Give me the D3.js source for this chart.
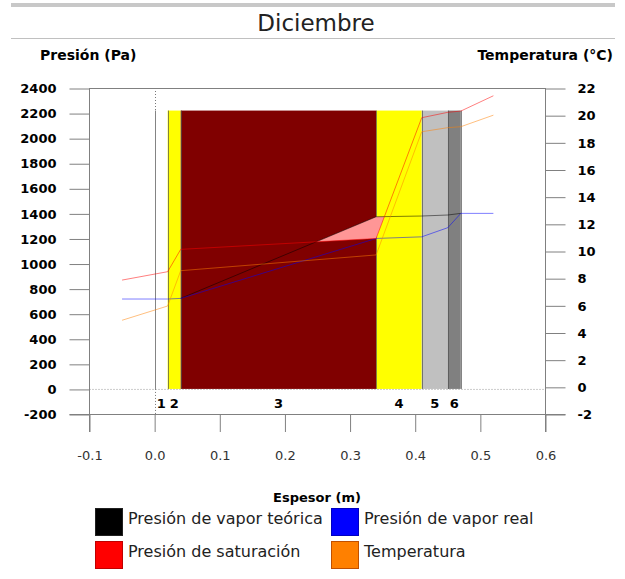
<!DOCTYPE html>
<html>
<head>
    <meta charset="utf-8">
    <title>Diciembre</title>
    <script src="https://d3js.org/d3.v7.min.js"></script>
    <style>
    body { margin: 0; background: #fff; }
    svg text { font-family: "DejaVu Sans", Verdana, sans-serif; }
    .axis path.domain { display: none; }
    .axis line { stroke: #808080; }
    .axis text { font-size: 13px; font-weight: bold; fill: #000; }
    .xaxis text { font-weight: normal; fill: #333; }
    </style>
</head>
<body>
<script>
// layers of the wall (thickness in m)
var layerNames = ["1", "2", "3", "4", "5", "6"];
var layerStart = [0, 0.02, 0.04, 0.34, 0.41, 0.45];
var layerEnd = [0.02, 0.04, 0.34, 0.41, 0.45, 0.47];
var layerColors = ["#ffffff", "#ffff00", "#800000", "#ffff00", "#c0c0c0", "#808080"];
var wallTop = 2220;

// points along the section
var espesor = [-0.05, 0.02, 0.04, 0.34, 0.41, 0.45, 0.47, 0.52];
var presSat = [868, 935, 1113, 1200, 2163, 2206, 2216, 2338];
var presReal = [717, 717, 722, 1200, 1213, 1286, 1400, 1400];
var temperatura = [4.9, 5.95, 8.55, 9.71, 18.78, 19.08, 19.15, 20.0];
var espesorTeo = [0.04, 0.34, 0.41, 0.45, 0.47];
var presTeo = [722, 1373, 1379, 1387, 1400];

var presTicks = d3.range(-200, 2401, 200);
var tempTicks = d3.range(-2, 23, 2);
var xTicks = [-0.1, 0.0, 0.1, 0.2, 0.3, 0.4, 0.5, 0.6];

var legendNames = ["Presión de vapor teórica", "Presión de vapor real", "Presión de saturación", "Temperatura"];
var legendColors = ["#000000", "#0000ff", "#ff0000", "#ff8000"];
var legendBorders = ["#202020", "#0000c0", "#c00000", "#c05000"];

var width = 625, height = 579;
var svg = d3.select("body").append("svg")
    .attr("width", width)
    .attr("height", height);

var x = d3.scaleLinear().domain([-0.1, 0.6]).range([89.5, 545.5]);
var yP = d3.scaleLinear().domain([-200, 2400]).range([414, 88]);
var yT = d3.scaleLinear().domain([-2, 22]).range([414, 88]);

// plain hyphen for negative numbers
function fmt(f) {
    return function(d) { return d3.format(f)(d).replace("\u2212", "-"); };
}

// title
svg.append("rect").attr("x", 11).attr("y", 3).attr("width", 604).attr("height", 4).attr("fill", "#c8c8c8");
svg.append("text").attr("x", 316).attr("y", 31).attr("text-anchor", "middle")
    .style("font-size", "23px").style("fill", "#222").text("Diciembre");
svg.append("line").attr("x1", 11).attr("x2", 615).attr("y1", 38.5).attr("y2", 38.5).attr("stroke", "#c0c0c0");

svg.append("text").attr("x", 40).attr("y", 60)
    .style("font-size", "14px").style("font-weight", "bold").text("Presión (Pa)");
svg.append("text").attr("x", 613).attr("y", 60).attr("text-anchor", "end")
    .style("font-size", "14px").style("font-weight", "bold").text("Temperatura (°C)");

// layers
svg.selectAll("rect.layer")
    .data(layerNames)
    .enter()
    .append("rect")
    .attr("class", "layer")
    .attr("x", function(d, i) { return x(layerStart[i]); })
    .attr("width", function(d, i) { return x(layerEnd[i]) - x(layerStart[i]); })
    .attr("y", yP(wallTop))
    .attr("height", yP(0) - yP(wallTop))
    .attr("fill", function(d, i) { return layerColors[i]; });

// borders between layers
var borders = layerStart.concat([layerEnd[layerEnd.length - 1]]);
svg.selectAll("line.border")
    .data(borders)
    .enter()
    .append("line")
    .attr("x1", function(d) { return Math.round(x(d)) + 0.5; })
    .attr("x2", function(d) { return Math.round(x(d)) + 0.5; })
    .attr("y1", yP(wallTop))
    .attr("y2", yP(0))
    .attr("stroke", "#505050")
    .attr("stroke-opacity", 0.7);

// dotted reference lines
svg.append("line").attr("x1", x(-0.1)).attr("x2", x(0.6)).attr("y1", yP(0) + 0.5).attr("y2", yP(0) + 0.5)
    .attr("stroke", "#999").attr("stroke-dasharray", "1,2");
svg.append("line").attr("x1", Math.round(x(0)) + 0.5).attr("x2", Math.round(x(0)) + 0.5).attr("y1", 88).attr("y2", yP(wallTop))
    .attr("stroke", "#777").attr("stroke-dasharray", "1,2");
svg.append("line").attr("x1", Math.round(x(0)) + 0.5).attr("x2", Math.round(x(0)) + 0.5).attr("y1", yP(0)).attr("y2", 414)
    .attr("stroke", "#777").attr("stroke-dasharray", "1,2");

// condensation zone: where theoretical pressure is above saturation
function interp(xs, ys, v) {
    for (var i = 0; i < xs.length - 1; i++) {
        if (v >= xs[i] && v <= xs[i + 1]) {
            return ys[i] + (ys[i + 1] - ys[i]) * (v - xs[i]) / (xs[i + 1] - xs[i]);
        }
    }
    return ys[ys.length - 1];
}
var pts = [];
var xsAll = espesorTeo.concat(espesor.filter(function(v) { return v > espesorTeo[0] && v < espesorTeo[espesorTeo.length - 1]; }));
xsAll.sort(d3.ascending);
xsAll = xsAll.filter(function(v, i) { return i == 0 || v != xsAll[i - 1]; });
for (var i = 0; i < xsAll.length; i++) {
    var a = xsAll[i];
    pts.push(a);
    if (i < xsAll.length - 1) {
        var b = xsAll[i + 1];
        var da = interp(espesorTeo, presTeo, a) - interp(espesor, presSat, a);
        var db = interp(espesorTeo, presTeo, b) - interp(espesor, presSat, b);
        if (da * db < 0) pts.push(a + (b - a) * da / (da - db));
    }
}
var zone = d3.area()
    .x(function(d) { return x(d); })
    .y0(function(d) { return yP(interp(espesor, presSat, d)); })
    .y1(function(d) { return yP(Math.max(interp(espesorTeo, presTeo, d), interp(espesor, presSat, d))); });
svg.append("path").datum(pts).attr("d", zone).attr("fill", "#ff9696");

// lines
var lineP = d3.line().x(function(d) { return x(d[0]); }).y(function(d) { return yP(d[1]); });
var lineT = d3.line().x(function(d) { return x(d[0]); }).y(function(d) { return yT(d[1]); });

svg.append("path").datum(d3.zip(espesorTeo, presTeo)).attr("d", lineP)
    .attr("fill", "none").attr("stroke", "#000").attr("stroke-opacity", 0.5);
svg.append("path").datum(d3.zip(espesor, presReal)).attr("d", lineP)
    .attr("fill", "none").attr("stroke", "#0000ff").attr("stroke-opacity", 0.5);
svg.append("path").datum(d3.zip(espesor, presSat)).attr("d", lineP)
    .attr("fill", "none").attr("stroke", "#ff0000").attr("stroke-opacity", 0.5);
svg.append("path").datum(d3.zip(espesor, temperatura)).attr("d", lineT)
    .attr("fill", "none").attr("stroke", "#ff8000").attr("stroke-opacity", 0.5);

// frame
svg.append("line").attr("x1", x(-0.1)).attr("x2", x(0.6)).attr("y1", 88.5).attr("y2", 88.5).attr("stroke", "#808080");
svg.append("line").attr("x1", x(-0.1) - 20).attr("x2", x(0.6) + 20).attr("y1", 414.5).attr("y2", 414.5).attr("stroke", "#808080");
svg.append("line").attr("x1", x(-0.1)).attr("x2", x(-0.1)).attr("y1", 88).attr("y2", 432).attr("stroke", "#808080");
svg.append("line").attr("x1", x(0.6)).attr("x2", x(0.6)).attr("y1", 88).attr("y2", 432).attr("stroke", "#808080");

// axes
svg.append("g").attr("class", "axis")
    .attr("transform", "translate(" + x(-0.1) + ",0.5)")
    .call(d3.axisLeft(yP).tickValues(presTicks).tickSize(20).tickPadding(13).tickFormat(fmt("d")));
svg.append("g").attr("class", "axis")
    .attr("transform", "translate(" + x(0.6) + ",0.5)")
    .call(d3.axisRight(yT).tickValues(tempTicks).tickSize(20).tickPadding(12).tickFormat(fmt("d")));
var xa = svg.append("g").attr("class", "axis xaxis")
    .attr("transform", "translate(0,414)")
    .call(d3.axisBottom(x).tickValues(xTicks).tickSize(18).tickFormat(fmt(".1f")));
xa.selectAll("text").attr("y", 46).attr("dy", 0);

// layer numbers
svg.selectAll("text.layername")
    .data(layerNames)
    .enter()
    .append("text")
    .attr("x", function(d, i) { return x((layerStart[i] + layerEnd[i]) / 2); })
    .attr("y", 407.5)
    .attr("text-anchor", "middle")
    .style("font-size", "13px")
    .style("font-weight", "bold")
    .text(function(d) { return d; });

svg.append("text").attr("x", 317).attr("y", 502).attr("text-anchor", "middle")
    .style("font-size", "13px").style("font-weight", "bold").text("Espesor (m)");

// legend
var legend = svg.selectAll("g.legend")
    .data(legendNames)
    .enter()
    .append("g")
    .attr("transform", function(d, i) {
        return "translate(" + (i % 2 == 0 ? 95 : 331) + "," + (508 + Math.floor(i / 2) * 33) + ")";
    });
legend.append("rect")
    .attr("x", 0.5).attr("y", 0.5)
    .attr("width", 27).attr("height", 27)
    .attr("fill", function(d, i) { return legendColors[i]; })
    .attr("stroke", function(d, i) { return legendBorders[i]; });
legend.append("text")
    .attr("x", 33)
    .attr("y", 16)
    .style("font-size", "16px")
    .style("fill", "#222")
    .text(function(d) { return d; });
</script>
</body>
</html>
